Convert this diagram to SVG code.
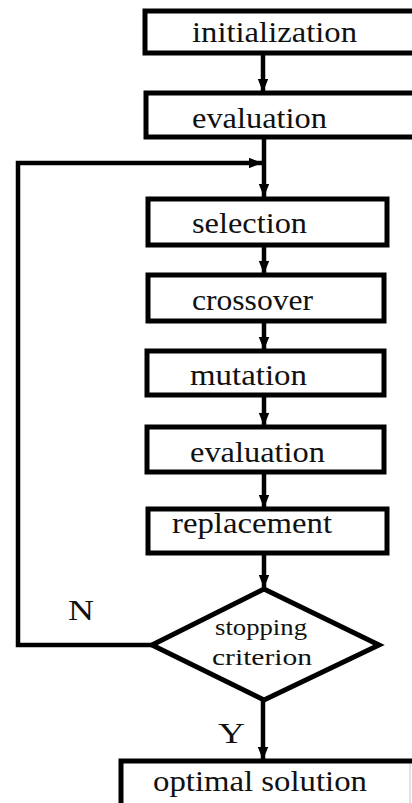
<svg xmlns="http://www.w3.org/2000/svg" width="412" height="803" viewBox="0 0 412 803">
<defs>
<style>
.box{fill:#fff;stroke:#000;stroke-width:5;stroke-linecap:round}
.edge{fill:none;stroke:#d8d8d8;stroke-width:1.5}
.ln{fill:none;stroke:#000;stroke-width:4.5}
.t{font-family:"Liberation Serif","Times New Roman",serif;font-size:30px;fill:#111;text-anchor:start}
.s{font-size:24px}
</style>
<marker id="ah" viewBox="0 0 10 8" refX="10" refY="4" markerWidth="3" markerHeight="2.4" orient="auto" markerUnits="strokeWidth">
<path d="M0,0 L10,4 L0,8 z" fill="#000"/>
</marker>
</defs>
<rect width="412" height="803" fill="#fff"/>
<g id="connectors">
<line class="ln" x1="263" y1="53" x2="263" y2="92" marker-end="url(#ah)"/>
<line class="ln" x1="264" y1="137" x2="264" y2="197" marker-end="url(#ah)"/>
<polyline class="ln" points="152,645 18,645 18,163 262,163" marker-end="url(#ah)"/>
<line class="ln" x1="264" y1="245" x2="264" y2="274" marker-end="url(#ah)"/>
<line class="ln" x1="264" y1="321" x2="264" y2="350" marker-end="url(#ah)"/>
<line class="ln" x1="264" y1="395" x2="264" y2="426" marker-end="url(#ah)"/>
<line class="ln" x1="264" y1="472" x2="264" y2="508" marker-end="url(#ah)"/>
<line class="ln" x1="264" y1="553" x2="264" y2="588" marker-end="url(#ah)"/>
<line class="ln" x1="263" y1="700" x2="263" y2="760" marker-end="url(#ah)"/>
<text class="t" x="68" y="620" textLength="26" lengthAdjust="spacingAndGlyphs">N</text>
<text class="t" x="218" y="743" textLength="27" lengthAdjust="spacingAndGlyphs">Y</text>
</g>
<g id="initialization">
<line class="edge" x1="410" y1="11" x2="410" y2="53"/>
<path class="box" d="M412,11 H145 V53 H412"/>
<text class="t" x="192" y="42" textLength="165" lengthAdjust="spacingAndGlyphs">initialization</text>
</g>
<g id="evaluation1">
<line class="edge" x1="410" y1="93" x2="410" y2="137"/>
<path class="box" d="M412,93 H146 V137 H412"/>
<text class="t" x="192" y="128" textLength="135" lengthAdjust="spacingAndGlyphs">evaluation</text>
</g>
<g id="selection">
<rect class="box" x="148" y="199" width="239" height="46"/>
<text class="t" x="192" y="233" textLength="115" lengthAdjust="spacingAndGlyphs">selection</text>
</g>
<g id="crossover">
<rect class="box" x="148" y="275" width="236" height="46"/>
<text class="t" x="192" y="310" textLength="121" lengthAdjust="spacingAndGlyphs">crossover</text>
</g>
<g id="mutation">
<rect class="box" x="147" y="351" width="237" height="44"/>
<text class="t" x="190" y="385" textLength="117" lengthAdjust="spacingAndGlyphs">mutation</text>
</g>
<g id="evaluation2">
<rect class="box" x="147" y="427" width="237" height="45"/>
<text class="t" x="190" y="462" textLength="135" lengthAdjust="spacingAndGlyphs">evaluation</text>
</g>
<g id="replacement">
<rect class="box" x="148" y="509" width="239" height="44"/>
<text class="t" x="172" y="533" textLength="160" lengthAdjust="spacingAndGlyphs">replacement</text>
</g>
<g id="stopping">
<polygon class="box" points="264,589 379,645 264,700 152,645" stroke-linejoin="miter" stroke-linecap="butt"/>
<text class="t s" x="215" y="635" textLength="92" lengthAdjust="spacingAndGlyphs">stopping</text>
<text class="t s" x="212" y="665" textLength="100" lengthAdjust="spacingAndGlyphs">criterion</text>
</g>
<g id="optimal">
<line class="edge" x1="410" y1="761" x2="410" y2="803"/>
<path class="box" d="M412,761 H121 V806"/>
<text class="t" x="153" y="791" textLength="214" lengthAdjust="spacingAndGlyphs">optimal solution</text>
</g>
</svg>
